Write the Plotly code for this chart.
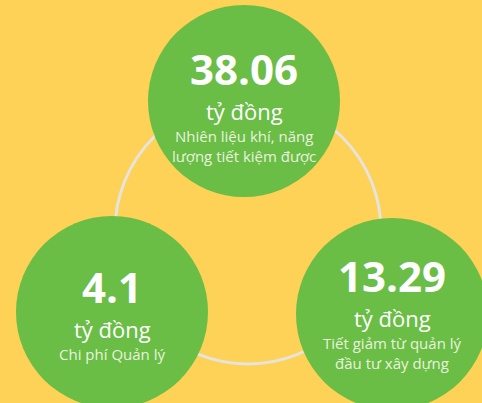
import plotly.graph_objects as go

# data
values = ["38.06", "4.1", "13.29"]
units = ["tỷ đồng", "tỷ đồng", "tỷ đồng"]
labels = [
    ["Nhiên liệu khí, năng", "lượng tiết kiệm được"],
    ["Chi phí Quản lý"],
    ["Tiết giảm từ quản lý", "đầu tư xây dựng"],
]

# layout (pixel space)
W, H = 482, 403
centers = [(244, 101), (112, 312), (392, 314)]
radius = 96
ring_c, ring_r = (248, 231), 133
value_y = [70, 288, 277]

bg = "#FED157"
green = "#6ABD45"
ring_col = "#E6E4DC"
font = "Open Sans"

fig = go.Figure()
fig.add_trace(go.Scatter(x=[0, W], y=[0, H], mode="markers",
                         marker=dict(opacity=0), hoverinfo="skip", showlegend=False))

shapes = [dict(type="circle", xref="x", yref="y",
               x0=ring_c[0] - ring_r, x1=ring_c[0] + ring_r,
               y0=ring_c[1] - ring_r, y1=ring_c[1] + ring_r,
               line=dict(color=ring_col, width=3), layer="below")]
for cx, cy in centers:
    shapes.append(dict(type="circle", xref="x", yref="y",
                       x0=cx - radius, x1=cx + radius, y0=cy - radius, y1=cy + radius,
                       fillcolor=green, line=dict(width=0), layer="below"))

annotations = []
for i, (cx, cy) in enumerate(centers):
    y = value_y[i]
    annotations.append(dict(x=cx, y=y - 2, text="<b>" + values[i] + "</b>", showarrow=False,
                            xref="x", yref="y", xanchor="center", yanchor="middle",
                            font=dict(family=font, size=42, color="white")))
    annotations.append(dict(x=cx, y=y + 41, text=units[i], showarrow=False,
                            xref="x", yref="y", xanchor="center", yanchor="middle",
                            font=dict(family=font, size=22, color="white")))
    for j, line in enumerate(labels[i]):
        annotations.append(dict(x=cx, y=y + 66 + j * 19.5, text=line, showarrow=False,
                                xref="x", yref="y", xanchor="center", yanchor="middle",
                                font=dict(family=font, size=15, color="#E9F3DF")))

fig.update_layout(
    width=W, height=H,
    margin=dict(l=0, r=0, t=0, b=0),
    paper_bgcolor=bg, plot_bgcolor=bg,
    shapes=shapes, annotations=annotations,
    xaxis=dict(range=[0, W], visible=False, fixedrange=True),
    yaxis=dict(range=[H, 0], visible=False, fixedrange=True),
    showlegend=False,
)

# drop the page's default body margin so the figure fills the window
fig.write_html("out.html", config=dict(displayModeBar=False),
               post_script="document.body.style.margin='0';document.body.style.overflow='hidden';")
